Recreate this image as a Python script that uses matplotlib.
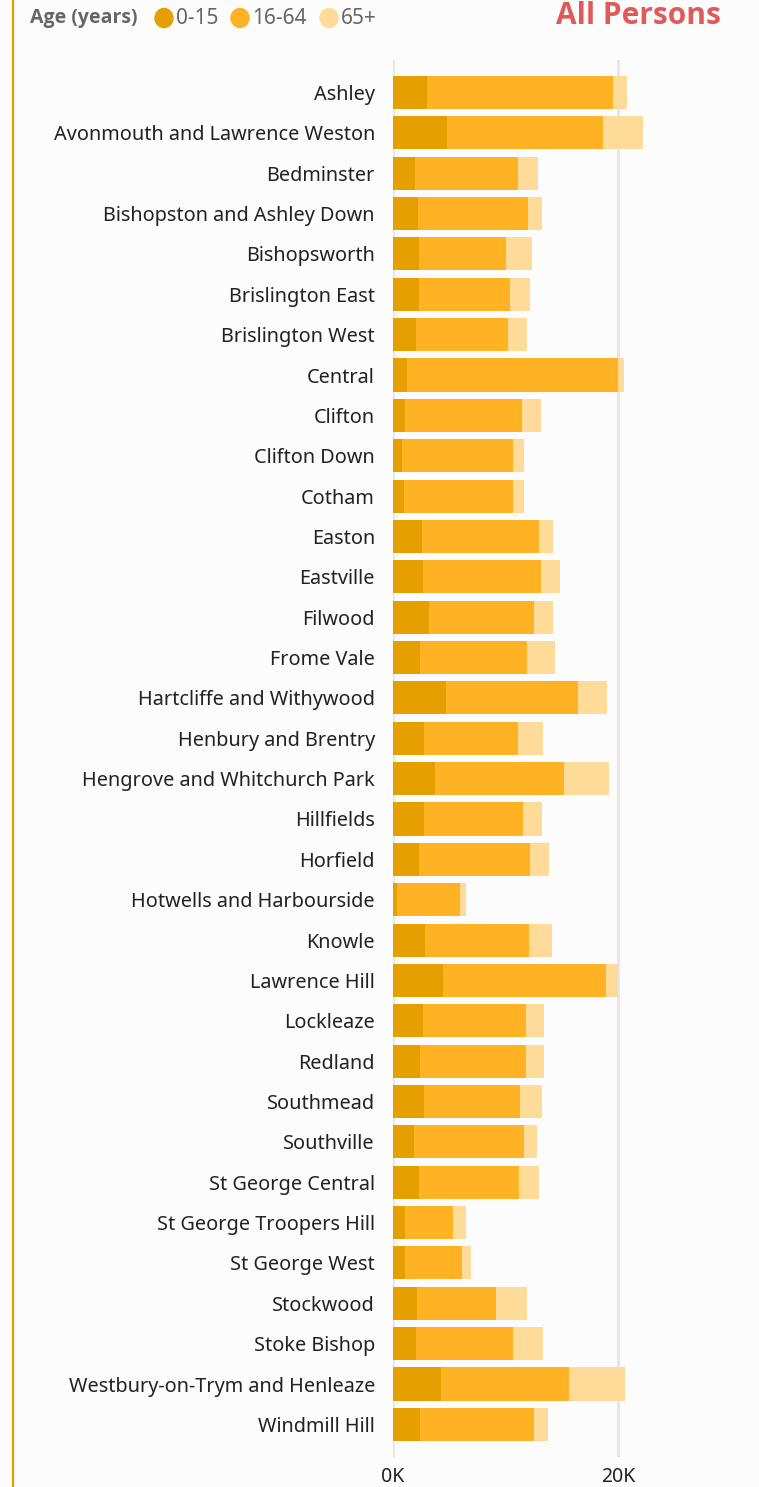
import matplotlib
matplotlib.use("Agg")
import matplotlib.pyplot as plt
from matplotlib.patches import Ellipse
import matplotlib.lines as mlines

wards = ["Ashley", "Avonmouth and Lawrence Weston", "Bedminster", "Bishopston and Ashley Down",
         "Bishopsworth", "Brislington East", "Brislington West", "Central", "Clifton", "Clifton Down",
         "Cotham", "Easton", "Eastville", "Filwood", "Frome Vale", "Hartcliffe and Withywood",
         "Henbury and Brentry", "Hengrove and Whitchurch Park", "Hillfields", "Horfield",
         "Hotwells and Harbourside", "Knowle", "Lawrence Hill", "Lockleaze", "Redland", "Southmead",
         "Southville", "St George Central", "St George Troopers Hill", "St George West", "Stockwood",
         "Stoke Bishop", "Westbury-on-Trym and Henleaze", "Windmill Hill"]

age_0_15 = [3.02, 4.80, 1.96, 2.22, 2.31, 2.31, 2.04, 1.24, 1.07, 0.80,
            0.98, 2.58, 2.67, 3.20, 2.40, 4.71, 2.76, 3.73, 2.76, 2.31,
            0.36, 2.84, 4.44, 2.67, 2.40, 2.76, 1.87, 2.31, 1.07, 1.07,
            2.13, 2.04, 4.27, 2.40]
age_16_64 = [16.54, 13.87, 9.15, 9.78, 7.73, 8.09, 8.18, 18.76, 10.40, 9.87,
             9.69, 10.40, 10.49, 9.33, 9.51, 11.73, 8.36, 11.47, 8.80, 9.87,
             5.60, 9.24, 14.49, 9.16, 9.42, 8.53, 9.78, 8.89, 4.27, 5.07,
             7.02, 8.62, 11.38, 10.13]
age_65p = [1.25, 3.55, 1.78, 1.24, 2.31, 1.78, 1.69, 0.53, 1.69, 0.98,
           0.98, 1.24, 1.69, 1.69, 2.49, 2.58, 2.22, 4.00, 1.69, 1.69,
           0.53, 2.04, 1.07, 1.60, 1.60, 1.96, 1.16, 1.78, 1.16, 0.80,
           2.76, 2.67, 4.98, 1.24]
series_names = ["0-15", "16-64", "65+"]
colors = ["#E5A000", "#FFB224", "#FEDB98"]
xticks = [0, 20]
xtick_labels = ["0K", "20K"]

plt.rcParams['font.family'] = ['Noto Sans', 'DejaVu Sans']

W, H = 759, 1487
fig = plt.figure(figsize=(W / 100, H / 100), dpi=100, facecolor="#FCFCFC")

ax_left, ax_right = 393, 759
ax_top, ax_bot = 60, 1457
ax = fig.add_axes([ax_left / W, 1 - ax_bot / H, (ax_right - ax_left) / W, (ax_bot - ax_top) / H])
ax.set_facecolor("#FCFCFC")

pitch = 40.36
first_c = 92.5
ax.set_ylim((ax_bot - first_c) / pitch, (ax_top - first_c) / pitch)
ax.set_xlim(0, (ax_right - ax_left) / 11.25)

y = list(range(len(wards)))
left = [0] * len(wards)
for vals, c in zip([age_0_15, age_16_64, age_65p], colors):
    ax.barh(y, vals, left=left, height=0.82, color=c, zorder=3, linewidth=0)
    left = [a + b for a, b in zip(left, vals)]

for xv in xticks:
    ax.axvline(xv, color="#E6E6E6", lw=2, zorder=1)

ax.set_yticks(y)
ax.set_yticklabels(wards, fontsize=14.3, color="#222222")
ax.set_xticks(xticks)
ax.set_xticklabels(xtick_labels, fontsize=14, color="#222222")
ax.tick_params(axis="both", length=0)
ax.tick_params(axis="y", pad=13)
ax.tick_params(axis="x", pad=7)
for s in ax.spines.values():
    s.set_visible(False)
for lbl in ax.get_yticklabels():
    lbl.set_y(lbl.get_position()[1])

# left border line
fig.add_artist(mlines.Line2D([13 / W, 13 / W], [0, 1], color="#E5A000", lw=1.6, transform=fig.transFigure))

# legend
ly = 1 - 18 / H
fig.text(30 / W, ly, "Age (years)", fontsize=14, fontweight="bold", color="#666666",
         va="center", ha="left", family=["Open Sans", "DejaVu Sans"])
circ_x = [164, 240, 329]
for cx, name, c in zip(circ_x, series_names, colors):
    fig.add_artist(Ellipse((cx / W, ly), 18 / W, 19 / H, color=c, transform=fig.transFigure))
    fig.text((cx + 12) / W, ly, name, fontsize=15, color="#666666", va="center", ha="left")

fig.text(721 / W, 1 - 16 / H, "All Persons", fontsize=21.5, fontweight="bold", color="#E05A5A",
         va="center", ha="right", family=["Open Sans", "DejaVu Sans"])

fig.savefig("out.png", dpi=100, facecolor=fig.get_facecolor())
